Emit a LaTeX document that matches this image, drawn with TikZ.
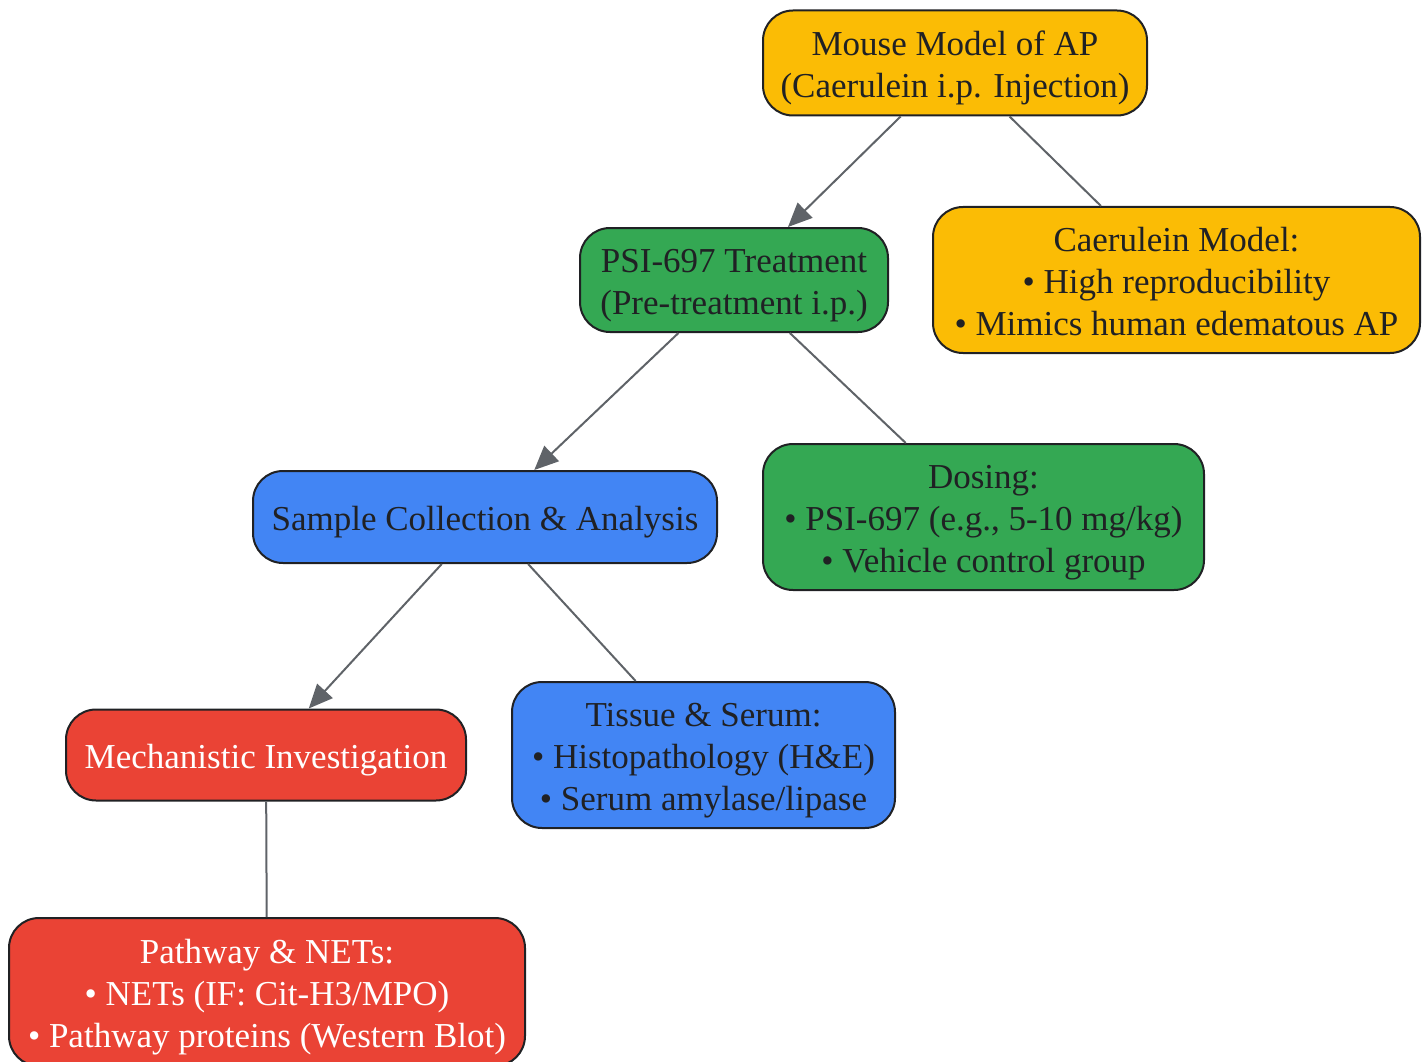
\documentclass[tikz,border=0pt]{standalone}
\usepackage{fontspec}
\setmainfont{Liberation Serif}
\usetikzlibrary{arrows.meta}
\definecolor{gyellow}{HTML}{FBBC05}
\definecolor{ggreen}{HTML}{34A853}
\definecolor{gblue}{HTML}{4285F4}
\definecolor{gred}{HTML}{EA4335}
\definecolor{gdark}{HTML}{202124}
\definecolor{ggray}{HTML}{5F6368}
\newcommand\sttopA{\rule{0pt}{37pt}}
\newcommand\sttopB{\rule{0pt}{37pt}}
\newcommand\stbot{\rule[-10pt]{0pt}{10pt}}
\tikzset{
  box/.style={draw=gdark, line width=2pt, rounded corners=30pt, inner sep=0pt,
    align=center, text=gdark, font=\fontsize{35}{42}\selectfont},
  yel/.style={box, fill=gyellow},
  grn/.style={box, fill=ggreen},
  blu/.style={box, fill=gblue},
  rd/.style={box, fill=gred, text=white},
  edge/.style={draw=ggray, line width=2pt},
  arr/.style={edge, -{Triangle[length=24pt,width=21pt]}}
}
\begin{document}
\begin{tikzpicture}[x=1pt,y=-1pt]
\useasboundingbox (0,0) rectangle (1428,1062);
\node[yel, minimum width=384pt, minimum height=105pt] (mouse) at (955,63) {\sttopB Mouse Model of AP\\(Caerulein i.p. Injection)\stbot};
\node[yel, minimum width=487pt, minimum height=146pt] (caer) at (1176.5,280) {\sttopB Caerulein Model:\\• High reproducibility\\• Mimics human edematous AP\stbot};
\node[grn, minimum width=308pt, minimum height=104pt] (psi) at (734,280) {\sttopB PSI-697 Treatment\\(Pre-treatment i.p.)\stbot};
\node[grn, minimum width=441pt, minimum height=146pt] (dose) at (983.5,517) {\sttopB Dosing:\\• PSI-697 (e.g., 5-10 mg/kg)\\• Vehicle control group\stbot};
\node[blu, minimum width=464pt, minimum height=92pt] (sample) at (485,517) {\sttopA Sample Collection \& Analysis\stbot};
\node[blu, minimum width=383pt, minimum height=146pt] (tissue) at (703.5,755) {\sttopB Tissue \& Serum:\\• Histopathology (H\&E)\\• Serum amylase/lipase\stbot};
\node[rd, minimum width=400pt, minimum height=91pt] (mech) at (266,755) {\sttopA Mechanistic Investigation\stbot};
\node[rd, minimum width=516pt, minimum height=148pt] (path) at (267,992) {\sttopB Pathway \& NETs:\\• NETs (IF: Cit-H3/MPO)\\• Pathway proteins (Western Blot)\stbot};
\draw[arr] (mouse) -- (psi);
\draw[edge] (mouse) -- (caer);
\draw[arr] (psi) -- (sample);
\draw[edge] (psi) -- (dose);
\draw[arr] (sample) -- (mech);
\draw[edge] (sample) -- (tissue);
\draw[edge] (mech) -- (path);
\end{tikzpicture}
\end{document}
